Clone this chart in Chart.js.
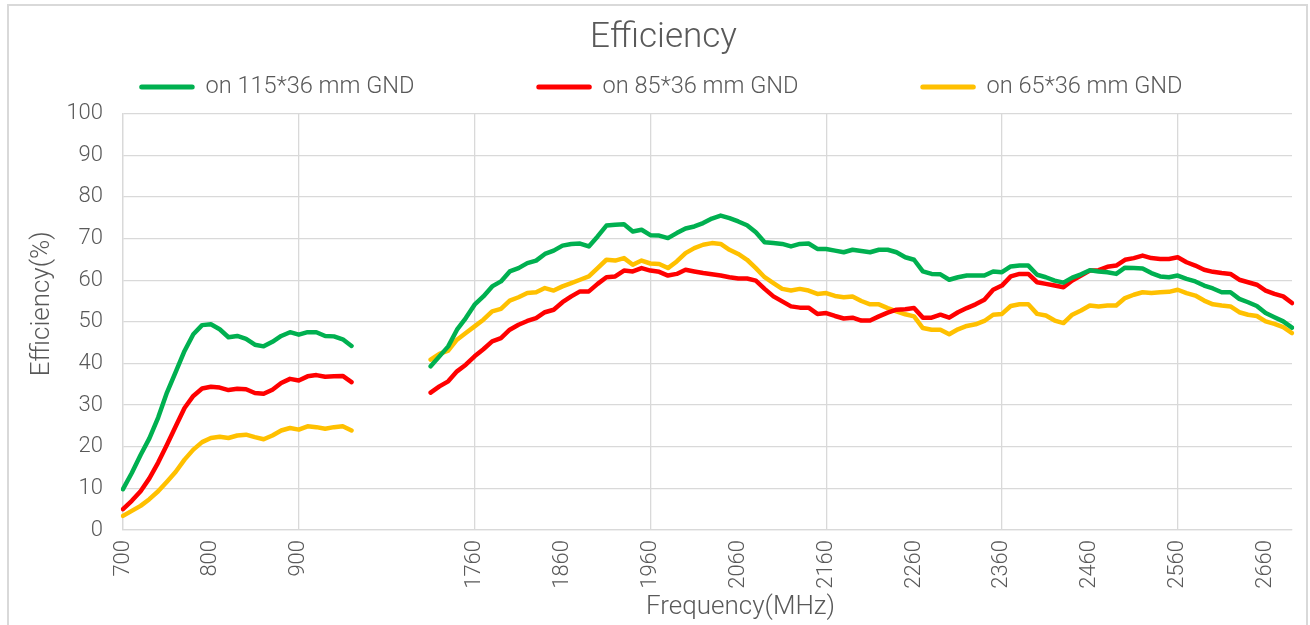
<!DOCTYPE html>
<html>
<head>
<meta charset="utf-8">
<title>Efficiency</title>
<script src="https://cdn.jsdelivr.net/npm/chart.js@4.4.1/dist/chart.umd.min.js"></script>
<style>
  html, body { margin: 0; padding: 0; background: #fff; overflow: hidden; }
  #frame { position: absolute; left: 7px; top: 4px; width: 1297px; height: 640px; border: 2px solid #d9d9d9; }
  #wrap { position: absolute; left: 0; top: 0; width: 1297px; height: 619px; }
</style>
</head>
<body>
<div id="frame"><div id="wrap"><canvas id="effChart"></canvas></div></div>
<script>
// frequencies (MHz), low band and high band, with an empty gap between them
const freqLow = [700, 710, 720, 730, 740, 750, 760, 770, 780, 790, 800, 810, 820, 830, 840,
  850, 860, 870, 880, 890, 900, 910, 920, 930, 940, 950, 960];
const gapSize = 8;
const freqHigh = [1710, 1720, 1730, 1740, 1750, 1760, 1770, 1780, 1790, 1800, 1810, 1820, 1830,
  1840, 1850, 1860, 1870, 1880, 1890, 1900, 1910, 1920, 1930, 1940, 1950, 1960, 1970, 1980,
  1990, 2000, 2010, 2020, 2030, 2040, 2050, 2060, 2070, 2080, 2090, 2100, 2110, 2120, 2130,
  2140, 2150, 2160, 2170, 2180, 2190, 2200, 2210, 2220, 2230, 2240, 2250, 2260, 2270, 2280,
  2290, 2300, 2310, 2320, 2330, 2340, 2350, 2360, 2370, 2380, 2390, 2400, 2410, 2420, 2430,
  2440, 2450, 2460, 2470, 2480, 2490, 2500, 2510, 2520, 2530, 2540, 2550, 2560, 2570, 2580,
  2590, 2600, 2610, 2620, 2630, 2640, 2650, 2660, 2670, 2680, 2690];

const seriesNames = ['on 115*36 mm GND', 'on 85*36 mm GND', 'on 65*36 mm GND'];

// efficiency (%) on 115*36 mm GND
const gnd115Low = [9.8, 13.7, 18.0, 22.0, 27.0, 33.0, 38.0, 43.0, 47.0, 49.2, 49.4, 48.2, 46.3,
  46.6, 45.9, 44.5, 44.1, 45.2, 46.6, 47.5, 46.9, 47.5, 47.5, 46.6, 46.5, 45.8, 44.2];
const gnd115High = [39.3, 41.7, 44.1, 48.1, 50.9, 54.1, 56.1, 58.5, 59.7, 62.1, 62.9, 64.1, 64.7,
  66.3, 67.1, 68.3, 68.7, 68.8, 68.1, 70.5, 73.1, 73.3, 73.4, 71.7, 72.1,
  70.8, 70.7, 70.1, 71.3, 72.4, 72.9, 73.7, 74.8, 75.5, 74.9, 74.1, 73.2, 71.5, 69.1, 68.9,
  68.7, 68.1, 68.7, 68.8, 67.5, 67.5, 67.1, 66.7, 67.3, 67.0,
  66.7, 67.3, 67.3, 66.7, 65.5, 64.9, 62.1, 61.5, 61.4, 60.1, 60.7, 61.1, 61.1, 61.1, 62.1,
  61.9, 63.3, 63.5, 63.5, 61.3, 60.7, 59.9, 59.4, 60.6, 61.4,
  62.4, 62.1, 61.9, 61.5, 63.0, 62.9, 62.8, 61.7, 60.9, 60.7, 61.1, 60.3, 59.7, 58.7, 58.0,
  57.1, 57.1, 55.5, 54.7, 53.8, 52.1, 51.1, 50.1, 48.6];

// efficiency (%) on 85*36 mm GND
const gnd85Low = [5.0, 7.0, 9.3, 12.4, 16.2, 20.5, 24.9, 29.3, 32.2, 34.0, 34.4, 34.2, 33.6,
  33.9, 33.8, 32.9, 32.7, 33.7, 35.3, 36.3, 35.9, 36.9, 37.2, 36.8, 36.9, 37.0, 35.5];
const gnd85High = [33.0, 34.5, 35.7, 38.1, 39.7, 41.7, 43.4, 45.3, 46.1, 48.1, 49.3, 50.2, 50.9,
  52.3, 52.9, 54.7, 56.1, 57.3, 57.3, 59.1, 60.7, 60.9, 62.3, 62.1, 62.9,
  62.3, 62.0, 61.1, 61.5, 62.5, 62.1, 61.7, 61.4, 61.1, 60.7, 60.4, 60.4, 59.9, 57.9, 56.1,
  54.9, 53.7, 53.4, 53.4, 51.9, 52.1, 51.4, 50.8, 51.0, 50.3,
  50.3, 51.3, 52.2, 52.9, 53.0, 53.3, 51.0, 51.0, 51.7, 51.0, 52.3, 53.3, 54.2, 55.3, 57.7,
  58.7, 60.9, 61.5, 61.5, 59.5, 59.1, 58.7, 58.3, 59.9, 61.1,
  62.3, 62.4, 63.2, 63.5, 64.9, 65.3, 65.9, 65.3, 65.1, 65.1, 65.5, 64.3, 63.5, 62.5, 62.0,
  61.7, 61.5, 60.1, 59.5, 58.9, 57.5, 56.7, 56.1, 54.5];

// efficiency (%) on 65*36 mm GND
const gnd65Low = [3.4, 4.6, 5.8, 7.4, 9.3, 11.6, 14.0, 16.9, 19.3, 21.1, 22.1, 22.4, 22.1,
  22.7, 22.9, 22.3, 21.8, 22.7, 23.9, 24.5, 24.1, 24.9, 24.7, 24.3, 24.7, 24.9, 23.9];
const gnd65High = [40.9, 42.3, 43.1, 45.7, 47.3, 48.9, 50.5, 52.5, 53.1, 55.1, 55.9, 56.9, 57.1,
  58.1, 57.5, 58.5, 59.3, 60.1, 60.9, 62.9, 64.9, 64.7, 65.3, 63.7, 64.7,
  64.0, 63.9, 62.9, 64.5, 66.5, 67.7, 68.5, 68.9, 68.7, 67.3, 66.3, 64.9, 62.9, 60.7, 59.3,
  57.9, 57.5, 57.9, 57.5, 56.7, 56.9, 56.2, 55.9, 56.1, 55.0,
  54.2, 54.2, 53.3, 52.5, 51.8, 51.3, 48.5, 48.1, 48.1, 47.0, 48.2, 49.0, 49.4, 50.2, 51.7,
  51.9, 53.8, 54.2, 54.2, 51.9, 51.5, 50.3, 49.7, 51.7, 52.7,
  53.9, 53.7, 53.9, 53.9, 55.7, 56.5, 57.1, 56.9, 57.1, 57.2, 57.7, 56.9, 56.3, 55.1, 54.2,
  53.9, 53.7, 52.3, 51.7, 51.4, 50.1, 49.5, 48.7, 47.3];

const yTicks = [0, 10, 20, 30, 40, 50, 60, 70, 80, 90, 100];

const gap = new Array(gapSize).fill(null);
const labels = [...freqLow.map(String), ...gap.map(() => ''), ...freqHigh.map(String)];
const join = (low, high) => [...low, ...gap, ...high];

const textColor = '#595959';
const gridColor = '#d9d9d9';
const fontFamily = 'Roboto, "Noto Sans", sans-serif';
const colors = ['#00b050', '#ff0000', '#ffc000'];
const lineW = 4.5;

const makeSet = (i, data) => ({
  label: seriesNames[i],
  data: data,
  borderColor: colors[i],
  backgroundColor: colors[i],
  borderWidth: lineW,
  borderCapStyle: 'round',
  borderJoinStyle: 'round',
  pointRadius: 0,
  pointHoverRadius: 0,
  tension: 0,
  spanGaps: false
});

// legend row and the two axis titles, placed the way the spreadsheet had them
const extras = {
  id: 'extras',
  afterDraw(chart) {
    const ctx = chart.ctx;
    const area = chart.chartArea;
    const sampleLen = 55, textGap = 11, itemGap = 122, legendY = 81, legendCenterX = 652;
    ctx.save();
    ctx.font = '300 23.6px ' + fontFamily;
    ctx.fillStyle = textColor;
    ctx.textBaseline = 'middle';
    ctx.textAlign = 'left';
    const items = chart.data.datasets.map(ds => ({
      ds: ds,
      w: sampleLen + textGap + ctx.measureText(ds.label).width
    }));
    const total = items.reduce((s, it) => s + it.w, 0) + itemGap * (items.length - 1);
    let x = legendCenterX - total / 2;
    items.forEach(it => {
      ctx.strokeStyle = it.ds.borderColor;
      ctx.lineWidth = lineW + 0.5;
      ctx.lineCap = 'round';
      ctx.beginPath();
      ctx.moveTo(x + lineW / 2, legendY);
      ctx.lineTo(x + sampleLen - lineW / 2, legendY);
      ctx.stroke();
      ctx.fillText(it.ds.label, x + sampleLen + textGap, legendY);
      x += it.w + itemGap;
    });

    ctx.font = '300 26px ' + fontFamily;
    ctx.textAlign = 'center';
    ctx.fillText('Frequency(MHz)', (area.left + area.right) / 2 + 33, area.bottom + 77);

    ctx.translate(33, (area.top + area.bottom) / 2 - 18);
    ctx.rotate(-Math.PI / 2);
    ctx.fillText('Efficiency(%)', 0, 0);
    ctx.restore();
  }
};

const ctx = document.getElementById('effChart').getContext('2d');

new Chart(ctx, {
  type: 'line',
  data: {
    labels: labels,
    datasets: [
      makeSet(0, join(gnd115Low, gnd115High)),
      makeSet(1, join(gnd85Low, gnd85High)),
      makeSet(2, join(gnd65Low, gnd65High))
    ]
  },
  options: {
    responsive: true,
    maintainAspectRatio: false,
    animation: false,
    layout: { padding: { left: 12, right: 0, top: 0, bottom: 0 } },
    font: { family: fontFamily },
    plugins: {
      legend: { display: false },
      tooltip: { enabled: false },
      title: {
        display: true,
        text: 'Efficiency',
        color: textColor,
        font: { family: fontFamily, size: 35, weight: '300' },
        padding: { top: 11, bottom: 54.6 }
      }
    },
    scales: {
      x: {
        type: 'category',
        offset: false,
        afterFit: s => {
          s.height = 95;
          s.paddingLeft = 0;
          s.paddingRight = 14;
        },
        border: { color: gridColor, width: 1.3 },
        grid: {
          drawTicks: false,
          lineWidth: 1.3,
          color: c => (c.index % 20 === 0 ? gridColor : 'rgba(0,0,0,0)')
        },
        ticks: {
          autoSkip: false,
          maxRotation: 90,
          minRotation: 90,
          padding: 10,
          color: textColor,
          font: { family: fontFamily, size: 22, weight: '300' },
          callback: function (val, idx) {
            return idx % 10 === 0 ? this.getLabelForValue(val) : '';
          }
        }
      },
      y: {
        min: yTicks[0],
        max: yTicks[yTicks.length - 1],
        afterFit: s => { s.width = 102; },
        afterBuildTicks: s => { s.ticks = yTicks.map(v => ({ value: v })); },
        border: { color: gridColor, width: 1.3 },
        grid: { drawTicks: false, lineWidth: 1.3, color: gridColor },
        ticks: {
          padding: 20,
          color: textColor,
          font: { family: fontFamily, size: 22, weight: '300' }
        }
      }
    }
  },
  plugins: [extras]
});
</script>
</body>
</html>
